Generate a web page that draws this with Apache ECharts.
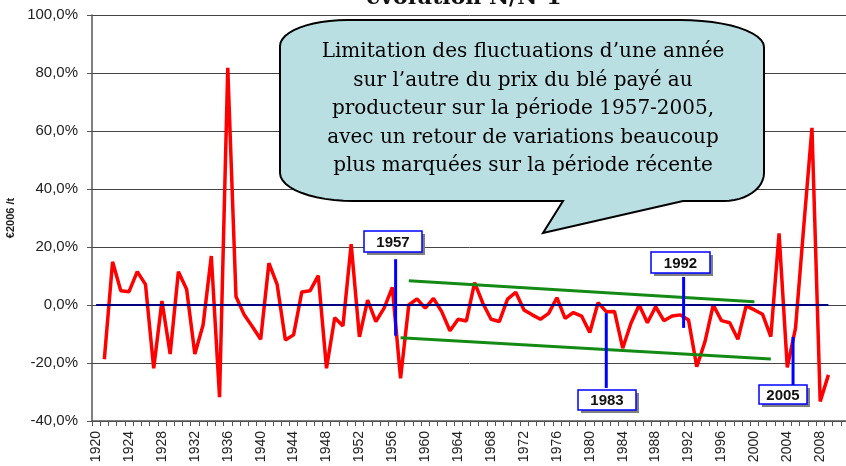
<!DOCTYPE html>
<html>
<head>
<meta charset="utf-8">
<script src="https://cdn.jsdelivr.net/npm/echarts@6/dist/echarts.min.js"></script>
<style>
html, body { margin: 0; padding: 0; background: #fff; }
#chart { width: 846px; height: 466px; }
</style>
</head>
<body>
<div id="chart"></div>
<script>
// categories: years (the plot runs a little past the last value)
var years = [];
for (var yr = 1920; yr <= 2011; yr++) years.push(String(yr));

// year-on-year change of the wheat price (%), 1920 has no N-1 value
var variation = [null,
    -18.7, 14.9, 4.9, 4.6, 11.5, 7.1, -21.8, 1.4, -16.9, 11.5,
    5.4, -16.9, -6.9, 16.9, -31.8, 81.8, 2.9, -3.4, -7.5, -11.8,
    14.4, 7.1, -12.1, -10.3, 4.5, 4.9, 10.1, -21.8, -4.4, -7.2,
    21.0, -11.0, 1.7, -5.7, -1.1, 6.1, -25.3, 0.0, 2.1, -1.1,
    2.3, -2.3, -8.9, -4.9, -5.5, 7.7, 0.6, -4.9, -5.7, 2.0,
    4.4, -1.7, -3.4, -4.9, -2.9, 2.5, -4.6, -2.6, -3.8, -9.5,
    0.8, -2.3, -2.2, -14.9, -6.3, 0.0, -6.1, -0.6, -5.4, -3.8,
    -3.4, -5.2, -21.3, -12.6, 0.0, -5.4, -6.1, -11.8, -0.3, -1.7,
    -3.2, -10.9, 24.7, -21.5, -8.0, 27.0, 61.1, -33.3, -24.1
];

// zero reference line and the two green trend lines
var zeroLine = [['1920', 0], ['2009', 0]];
var trendHigh = [['1958', 8.4], ['2000', 1.1]];
var trendLow = [['1957', -11.3], ['2002', -18.6]];

// period markers: label, year position, top and bottom of the blue tick
var markerLabels = ['1957', '1983', '1992', '2005'];
var markerYears = [1956.4, 1982.0, 1991.4, 2004.7];
var markerTop = [15.8, -2.8, 9.7, -11.0];
var markerBottom = [-10.6, -28.6, -7.9, -27.6];

var bubbleText = 'Limitation des fluctuations d\u2019une année\n' +
    'sur l\u2019autre du prix du blé payé au\n' +
    'producteur sur la période 1957-2005,\n' +
    'avec un retour de variations beaucoup\n' +
    'plus marquées sur la période récente';

var chart = echarts.init(document.getElementById('chart'));

function pctLabel(v) {
    return v.toFixed(1).replace('.', ',') + '%';
}

function lineMark(pair, color, width) {
    return {
        type: 'line',
        data: [],
        z: 5,
        silent: true,
        markLine: {
            silent: true,
            symbol: ['none', 'none'],
            label: { show: false },
            animation: false,
            lineStyle: { color: color, width: width, type: 'solid' },
            data: [[{ coord: pair[0] }, { coord: pair[1] }]]
        }
    };
}

var option = {
    animation: false,
    backgroundColor: '#fff',
    grid: { left: 92, right: -3, top: 15, bottom: 45, containLabel: false, outerBoundsMode: 'none' },
    xAxis: {
        type: 'category',
        data: years,
        boundaryGap: true,
        axisLine: { onZero: false, lineStyle: { color: '#555', width: 1.5 } },
        axisTick: { show: true, interval: 0, length: 5, lineStyle: { color: '#555' } },
        axisLabel: {
            interval: 3,
            rotate: 90,
            margin: 10,
            fontFamily: 'Liberation Sans',
            fontSize: 14,
            color: '#222'
        },
        splitLine: { show: false }
    },
    yAxis: {
        type: 'value',
        min: -40,
        max: 100,
        interval: 20,
        name: '\u20ac2006 /t',
        nameLocation: 'middle',
        nameRotate: 90,
        nameGap: 76,
        nameTextStyle: { fontFamily: 'Liberation Sans', fontWeight: 'bold', fontSize: 11, color: '#222' },
        axisLine: { show: true, lineStyle: { color: '#555', width: 1.5 } },
        axisTick: { show: true, length: 5, lineStyle: { color: '#555' } },
        axisLabel: {
            formatter: pctLabel,
            margin: 14,
            fontFamily: 'Liberation Sans',
            fontSize: 15,
            color: '#222'
        },
        splitLine: { show: true, lineStyle: { color: '#444', width: 1 } }
    },
    series: [
        {
            type: 'line',
            data: variation,
            symbol: 'none',
            z: 3,
            lineStyle: { color: '#ff0000', width: 3.5 },
            itemStyle: { color: '#ff0000' }
        },
        lineMark(zeroLine, '#000080', 2),
        lineMark(trendHigh, '#138a13', 3),
        lineMark(trendLow, '#138a13', 3)
    ]
};
chart.setOption(option);

// a fractional year -> pixel, through the category axis
function toPx(year, val) {
    var i = Math.floor(year) - 1920;
    var f = year - Math.floor(year);
    var a = chart.convertToPixel({ xAxisIndex: 0, yAxisIndex: 0 }, [i, val]);
    var b = chart.convertToPixel({ xAxisIndex: 0, yAxisIndex: 0 }, [i + 1, val]);
    return [a[0] + f * (b[0] - a[0]), a[1]];
}

// speech bubble outline, built from four elliptical corners
function corner(cx, cy, rx, ry, a0, a1) {
    var pts = [];
    for (var k = 0; k <= 12; k++) {
        var t = (a0 + (a1 - a0) * k / 12) * Math.PI / 180;
        pts.push([cx + rx * Math.cos(t), cy + ry * Math.sin(t)]);
    }
    return pts;
}
var bl = 280, br = 764, bt = 20, bb = 201;
var bubble = []
    .concat(corner(br - 84, bt + 27, 84, 27, -90, 0))
    .concat(corner(br - 40, bb - 28, 40, 28, 0, 90))
    .concat([[683, bb], [543, 233], [563, bb]])
    .concat(corner(bl + 73, bb - 28, 73, 28, 90, 180))
    .concat(corner(bl + 67, bt + 26, 67, 26, 180, 270));

// label boxes for the markers (pixel layout of the annotation boxes)
var boxes = [
    { x: 364, y: 231, w: 58, h: 21 },
    { x: 578, y: 390, w: 58, h: 20 },
    { x: 651, y: 252, w: 59, h: 21 },
    { x: 759, y: 385, w: 48, h: 19 }
];

var graphics = [];
graphics.push({
    type: 'text', x: 464, y: -2, z: 50,
    style: {
        text: 'évolution N/N-1', fontFamily: 'DejaVu Serif', fontWeight: 'bold',
        fontSize: 22, fill: '#111', align: 'center', verticalAlign: 'middle'
    }
});
graphics.push({
    type: 'polygon', z: 50,
    shape: { points: bubble },
    style: { fill: '#badfe3', stroke: '#000', lineWidth: 2 }
});
graphics.push({
    type: 'text', x: 523, y: 38, z: 51,
    style: {
        text: bubbleText, fontFamily: 'DejaVu Serif', fontSize: 20,
        lineHeight: 28.4, fill: '#000', align: 'center', verticalAlign: 'top'
    }
});
for (var m = 0; m < markerLabels.length; m++) {
    var p1 = toPx(markerYears[m], markerTop[m]);
    var p2 = toPx(markerYears[m], markerBottom[m]);
    graphics.push({
        type: 'line', z: 40,
        shape: { x1: p1[0], y1: p1[1], x2: p2[0], y2: p2[1] },
        style: { stroke: '#0000ff', lineWidth: 3 }
    });
    var bx = boxes[m];
    graphics.push({
        type: 'rect', z: 41,
        shape: { x: bx.x + 3, y: bx.y + 3, width: bx.w, height: bx.h },
        style: { fill: '#808080' }
    });
    graphics.push({
        type: 'rect', z: 42,
        shape: { x: bx.x, y: bx.y, width: bx.w, height: bx.h },
        style: { fill: '#fff', stroke: '#0000ff', lineWidth: 1.5 }
    });
    graphics.push({
        type: 'text', z: 43, x: bx.x + bx.w / 2, y: bx.y + bx.h / 2 + 1,
        style: {
            text: markerLabels[m], fontFamily: 'Liberation Sans', fontWeight: 'bold',
            fontSize: 15, fill: '#111', align: 'center', verticalAlign: 'middle'
        }
    });
}
chart.setOption({ graphic: graphics });
</script>
</body>
</html>
